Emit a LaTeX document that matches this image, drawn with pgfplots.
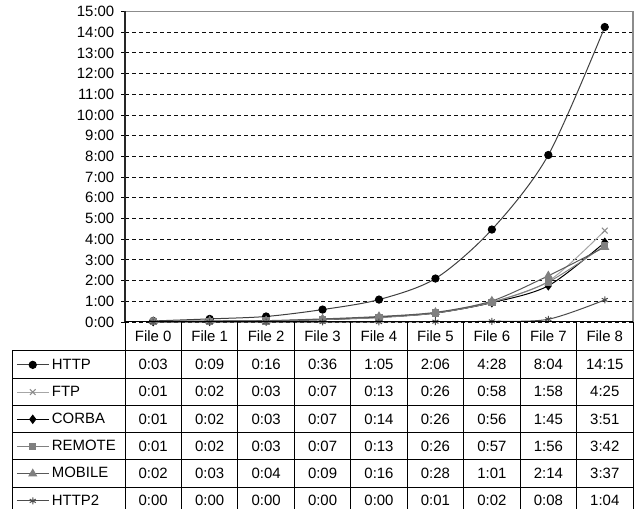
\documentclass[border=0pt]{standalone}
\usepackage{fontspec}
\setmainfont{Liberation Sans}
\usepackage{pgfplots}
\usepackage{pgfplotstable}
\pgfplotsset{compat=1.18}

% transfer times in seconds, one column per protocol
\pgfplotstableread{
file http ftp corba remote mobile httptwo
0    3    1   1     1      2      0
1    9    2   2     2      3      0
2    16   3   3     3      4      0
3    36   7   7     7      9      0
4    65   13  14    13     16     0
5    126  26  26    26     28     1
6    268  58  56    57     61     2
7    484  118 105   116    134    8
8    855  265 231   222    217    64
}\timings

\definecolor{gridblack}{gray}{0.05}
\definecolor{frame}{gray}{0.55}

% seconds -> m:ss
\newcommand\mmss[1]{%
  \pgfmathtruncatemacro\mm{#1/60}%
  \pgfmathtruncatemacro\sss{#1-60*\mm}%
  \mm:\ifnum\sss<10 0\fi\sss}

\newcommand\cellfont{\fontsize{11.2}{13}\selectfont}

\begin{document}
\begin{tikzpicture}
\begin{scope}[x=0.75pt,y=0.75pt]
\useasboundingbox (0,0) rectangle (639,508);
\clip (0,0) rectangle (639,508);
\end{scope}

\begin{axis}[
  at={(93.75pt,139.5pt)}, anchor=south west,
  scale only axis,
  width=381pt, height=232.875pt,
  xmin=-0.5, xmax=8.5,
  ymin=0, ymax=15,
  clip=false,
  axis line style={draw=none},
  xtick=\empty,
  ytick={0,...,15},
  yticklabels={0:00,1:00,2:00,3:00,4:00,5:00,6:00,7:00,8:00,9:00,10:00,11:00,12:00,13:00,14:00,15:00},
  ytick pos=left,
  tick align=center,
  major tick length=6pt,
  tick style={black, line width=0.75pt},
  yticklabel style={font=\cellfont, anchor=east, xshift=-1.5pt},
  ymajorgrids,
  grid style={gridblack, line width=0.75pt, dash pattern=on 3pt off 2.25pt},
  legend style={
    at={(rel axis cs:-0.2146,-0.0934)}, anchor=north west,
    draw=none, fill=none, inner sep=0pt, row sep=0pt,
    font=\cellfont,
    nodes={inner xsep=2pt, inner ysep=0pt, minimum height=20.4pt, anchor=west},
  },
  legend cell align=left,
  legend image code/.code={%
    \draw[mark repeat=2,mark phase=2] plot coordinates {(0pt,0pt) (12pt,0pt) (24pt,0pt)};},
  every axis plot/.append style={line width=0.75pt, smooth, tension=0.5},
]
\addplot[draw=black!75, mark=*, mark size=2.7pt, mark options={draw=black, fill=black, solid}]
  table[x=file, y expr=\thisrow{http}/60] {\timings};
\addlegendentry{HTTP}
\addplot[draw=black!35, mark=x, mark size=3pt, mark options={draw=black!45, solid}]
  table[x=file, y expr=\thisrow{ftp}/60] {\timings};
\addlegendentry{FTP}
\addplot[draw=black, mark=diamond*, mark size=3pt, mark options={draw=black, fill=black, solid}]
  table[x=file, y expr=\thisrow{corba}/60] {\timings};
\addlegendentry{CORBA}
\addplot[draw=black!50, mark=square*, mark size=2.4pt, mark options={draw=black!50, fill=black!50, solid}]
  table[x=file, y expr=\thisrow{remote}/60] {\timings};
\addlegendentry{REMOTE}
\addplot[draw=black!65, mark=triangle*, mark size=3.2pt, mark options={draw=black!50, fill=black!50, solid}]
  table[x=file, y expr=\thisrow{mobile}/60] {\timings};
\addlegendentry{MOBILE}
\addplot[draw=black!70, mark=asterisk, mark size=2.6pt, mark options={draw=black!70, solid}]
  table[x=file, y expr=\thisrow{httptwo}/60] {\timings};
\addlegendentry{HTTP2}

% plot frame
\draw[frame, line width=0.9pt] (rel axis cs:0,1) -- (rel axis cs:1,1) -- (rel axis cs:1,0);
\draw[black!85, line width=1.2pt] (rel axis cs:0,0) -- (rel axis cs:0,1);
\end{axis}

% data table beneath the plot
\begin{scope}[x=0.75pt, y=0.75pt, line width=0.75pt, black]
  \clip (0,0) rectangle (639,508);
  \draw (125,186) -- (633,186);
  \foreach \k in {0,...,9} \draw ({125+56.444*\k},186) -- ({125+56.444*\k},-10);
  \draw (12,157) -- (12,-10);
  \foreach \r in {0,...,5} \draw (12,{157-27.2*\r}) -- (633,{157-27.2*\r});
  \foreach \k in {0,...,8}
    \node[font=\cellfont] at ({125+56.444*(\k+0.5)},171.5) {File \k};
  \foreach \c [count=\r from 0] in {http,ftp,corba,remote,mobile,httptwo} {
    \foreach \k in {0,...,8} {
      \pgfplotstablegetelem{\k}{\c}\of\timings
      \node[font=\cellfont] at ({125+56.444*(\k+0.5)},{157-27.2*(\r+0.5)}) {\mmss{\pgfplotsretval}};
    }
  }
\end{scope}
\end{tikzpicture}
\end{document}
